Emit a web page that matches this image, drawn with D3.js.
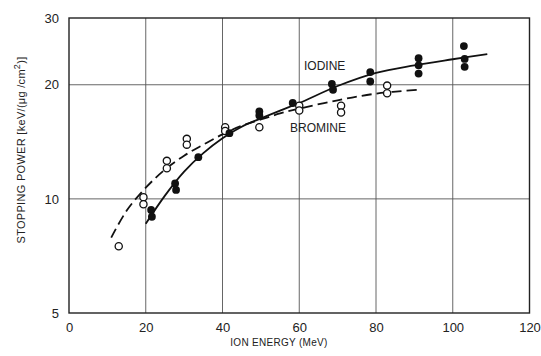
<!DOCTYPE html>
<html>
<head>
<meta charset="utf-8">
<script src="https://cdn.jsdelivr.net/npm/d3@7"></script>
<style>
body{margin:0;background:#fff;}
text{font-family:"Liberation Sans","DejaVu Sans",sans-serif;fill:#222;}
</style>
</head>
<body>
<div class="canvas"></div>
<script>
// measured points, iodine (filled) and bromine (open)
const iodineE = [21.4,21.6,27.65,27.9,33.7,41.8,49.6,49.6,58.3,68.5,68.8,78.5,78.5,91.1,91.1,91.1,102.9,103.1,103.1];
const iodineS = [9.35,8.97,10.98,10.56,12.88,14.9,17.0,16.6,17.9,20.1,19.4,21.6,20.4,23.5,22.5,21.4,25.3,23.4,22.3];
const bromineE = [12.96,19.4,19.4,25.5,25.5,30.7,30.7,40.7,40.7,49.6,60,60,70.9,70.9,82.9,82.9];
const bromineS = [7.5,10.1,9.68,12.6,12.05,14.4,13.9,15.45,15.1,15.45,17.6,17.1,17.6,16.9,19.9,19.0];

// fitted curves as drawn
const iodineCurveE = [20,25,30,35,40,45,50,55,60,70,80,90,100,109];
const iodineCurveS = [8.6,10.2,11.8,13.2,14.45,15.5,16.3,17.1,17.9,19.85,21.5,22.5,23.35,24.1];
const bromineCurveE = [11,15,20,25,30,35,40,45,50,55,60,70,80,90.7];
const bromineCurveS = [7.9,9.3,10.7,11.95,13.0,13.9,14.8,15.6,16.2,16.8,17.3,18.2,18.95,19.4];

const xTicks = [0,20,40,60,80,100,120];
const yTicks = [5,10,20,30];
const yGrid = [10,20];

const W=541, H=356;
const padL=69, padR=529.5, padT=18, padB=313;

const svg = d3.select(".canvas").append("svg")
  .attr("width", W).attr("height", H);

const x = d3.scaleLinear().domain([0,120]).range([padL,padR]);
const y = d3.scaleLog().domain([5,30]).range([padB,padT]);

// grid
svg.append("g").selectAll("line").data(xTicks.slice(1,-1)).enter().append("line")
  .attr("x1", d=>x(d)).attr("x2", d=>x(d)).attr("y1", padT).attr("y2", padB)
  .attr("stroke", "#555").attr("stroke-width", 0.9);
svg.append("g").selectAll("line").data(yGrid).enter().append("line")
  .attr("x1", padL).attr("x2", padR).attr("y1", d=>y(d)).attr("y2", d=>y(d))
  .attr("stroke", "#555").attr("stroke-width", 0.9);

svg.append("rect")
  .attr("x", padL).attr("y", padT).attr("width", padR-padL).attr("height", padB-padT)
  .attr("fill", "none").attr("stroke", "#222").attr("stroke-width", 1.4);

// axes
const xAxis = d3.axisBottom(x).tickValues(xTicks).tickSize(0).tickPadding(10).tickFormat(d3.format("d"));
const gx = svg.append("g").attr("transform", `translate(0,${padB})`).call(xAxis);
gx.select(".domain").remove();
gx.selectAll("text").style("font-size", "13px");

const yAxis = d3.axisLeft(y).tickValues(yTicks).tickSize(0).tickPadding(10).tickFormat(d3.format("d"));
const gy = svg.append("g").attr("transform", `translate(${padL},0)`).call(yAxis);
gy.select(".domain").remove();
gy.selectAll("text").style("font-size", "13px");

svg.append("text")
  .attr("x", 279).attr("y", 346).attr("text-anchor", "middle")
  .style("font-size", "10px").style("letter-spacing", "0.3px")
  .text("ION ENERGY (MeV)");

const yt = svg.append("text")
  .attr("transform", "translate(25,150) rotate(-90)")
  .attr("text-anchor", "middle")
  .style("font-size", "11px").style("letter-spacing", "0.3px");
yt.append("tspan").text("STOPPING POWER [keV/(μg /cm");
yt.append("tspan").attr("dy", -5).style("font-size", "9px").text("2");
yt.append("tspan").attr("dy", 5).text(")]");

// curves
const line = d3.line().x(d=>x(d[0])).y(d=>y(d[1])).curve(d3.curveCatmullRom);
svg.append("path")
  .datum(iodineCurveE.map((e,i)=>[e,iodineCurveS[i]]))
  .attr("d", line).attr("fill", "none").attr("stroke", "#111").attr("stroke-width", 1.8);
svg.append("path")
  .datum(bromineCurveE.map((e,i)=>[e,bromineCurveS[i]]))
  .attr("d", line).attr("fill", "none").attr("stroke", "#111").attr("stroke-width", 1.8)
  .attr("stroke-dasharray", "10,5");

// points
svg.append("g").selectAll("circle").data(bromineE.map((e,i)=>[e,bromineS[i]])).enter().append("circle")
  .attr("cx", d=>x(d[0])).attr("cy", d=>y(d[1])).attr("r", 3.6)
  .attr("fill", "#fff").attr("stroke", "#111").attr("stroke-width", 1.3);
svg.append("g").selectAll("circle").data(iodineE.map((e,i)=>[e,iodineS[i]])).enter().append("circle")
  .attr("cx", d=>x(d[0])).attr("cy", d=>y(d[1])).attr("r", 3.9)
  .attr("fill", "#111");

// series labels
svg.append("text").attr("x", 304).attr("y", 70).style("font-size", "12px").text("IODINE");
svg.append("text").attr("x", 290).attr("y", 132).style("font-size", "12px").text("BROMINE");
</script>
</body>
</html>
